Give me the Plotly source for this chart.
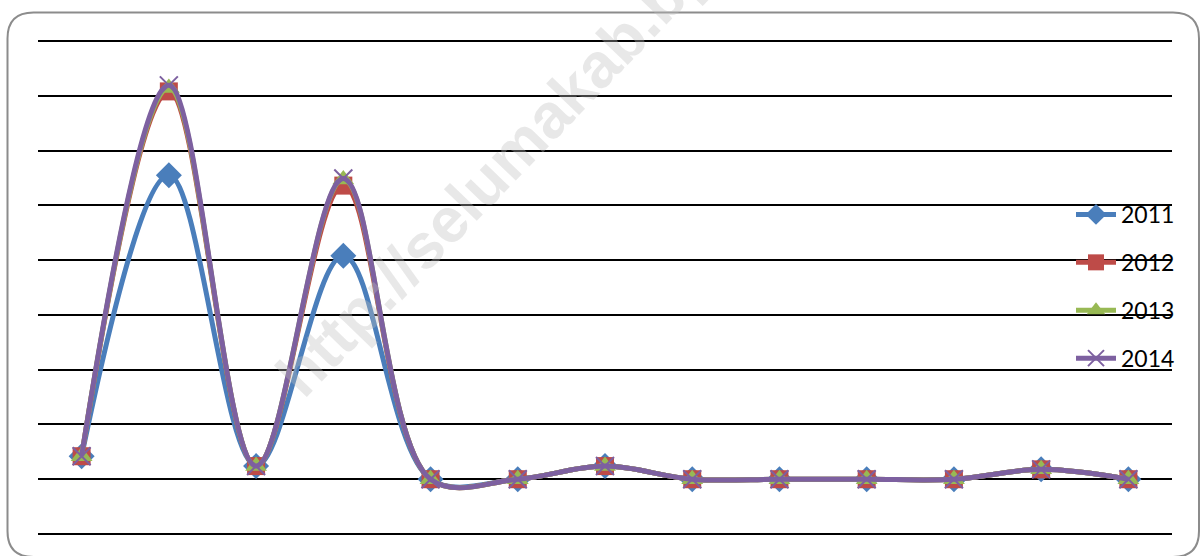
import plotly.graph_objects as go

categories = [str(i) for i in range(1, 14)]
years = ["2011", "2012", "2013", "2014"]
v2011 = [0.42, 5.55, 0.24, 4.08, 0.0, 0.0, 0.24, 0.0, 0.0, 0.0, 0.0, 0.18, 0.0]
v2012 = [0.42, 7.08, 0.24, 5.36, 0.0, 0.0, 0.24, 0.0, 0.0, 0.0, 0.0, 0.18, 0.0]
v2013 = [0.42, 7.14, 0.24, 5.47, 0.0, 0.0, 0.24, 0.0, 0.0, 0.0, 0.0, 0.18, 0.0]
v2014 = [0.42, 7.19, 0.24, 5.49, 0.0, 0.0, 0.24, 0.0, 0.0, 0.0, 0.0, 0.18, 0.0]
series = [v2011, v2012, v2013, v2014]
colors = ["#4A7EBB", "#BE4B48", "#98B954", "#7D60A0"]
symbols = ["diamond", "square", "triangle-up", "x-thin"]
msizes = [20, 18, 19, 18]

W, H = 1200, 556
EXT = 3  # px of padding so the -1 and 8 gridlines are drawn
L, R, T, B = 38, 28, 41 - EXT, 22 - EXT
pw, ph = W - L - R, H - T - B
unit = 9 / (ph - 2 * EXT)
ypad = EXT * unit

def px(x):
    return (x - L) / pw

def py(y):
    return (H - B - y) / ph

fig = go.Figure()
for name, vals, c, s, ms in zip(years, series, colors, symbols, msizes):
    if s == "x-thin":
        marker = dict(symbol=s, size=ms, color=c, line=dict(color=c, width=2))
    else:
        marker = dict(symbol=s, size=ms, color=c, line=dict(width=0))
    fig.add_trace(go.Scatter(
        x=categories, y=vals, name=name, mode="lines+markers",
        line=dict(color=c, width=5, shape="spline", smoothing=1.0),
        marker=marker, legendgroup=name, hoverinfo="skip",
    ))

# rounded chart frame
x0, x1, y0, y1, r = px(7.5), px(1199), py(12.5), py(557), 26
rx, ry = r / pw, r / ph
path = (f"M {x0},{y1 + ry} L {x0},{y0 - ry} Q {x0},{y0} {x0 + rx},{y0} "
        f"L {x1 - rx},{y0} Q {x1},{y0} {x1},{y0 - ry} L {x1},{y1 + ry} "
        f"Q {x1},{y1} {x1 - rx},{y1} L {x0 + rx},{y1} Q {x0},{y1} {x0},{y1 + ry} Z")
fig.add_shape(type="path", path=path, xref="paper", yref="paper",
              line=dict(color="#8C8C8C", width=2), layer="below")

fig.add_annotation(
    text="<b>http://selumakab.bps.go.id</b>", xref="paper", yref="paper",
    x=px(565), y=py(98), xanchor="center", yanchor="middle",
    showarrow=False, textangle=-46,
    font=dict(family="Liberation Sans", size=63, color="rgba(190,190,190,0.35)"),
)

fig.update_layout(
    width=W, height=H,
    margin=dict(l=L, r=R, t=T, b=B),
    paper_bgcolor="white", plot_bgcolor="rgba(0,0,0,0)",
    showlegend=True,
    legend=dict(
        x=px(1071), y=py(193), xanchor="left", yanchor="top",
        bgcolor="rgba(0,0,0,0)", font=dict(family="Lato", size=23, color="black"),
        tracegroupgap=15, itemwidth=40,
    ),
    xaxis=dict(type="category", range=[-0.5, 12.5], showgrid=False, showticklabels=False,
               showline=False, zeroline=False, ticks=""),
    yaxis=dict(range=[-1 - ypad, 8 + ypad], dtick=1, showgrid=True, gridcolor="black",
               gridwidth=1.5, zeroline=True, zerolinecolor="black", zerolinewidth=1.5,
               showticklabels=False, ticks="", showline=False),
)

fig.write_html("out.html", config={"displayModeBar": False},
               post_script="document.body.style.margin='0';")
